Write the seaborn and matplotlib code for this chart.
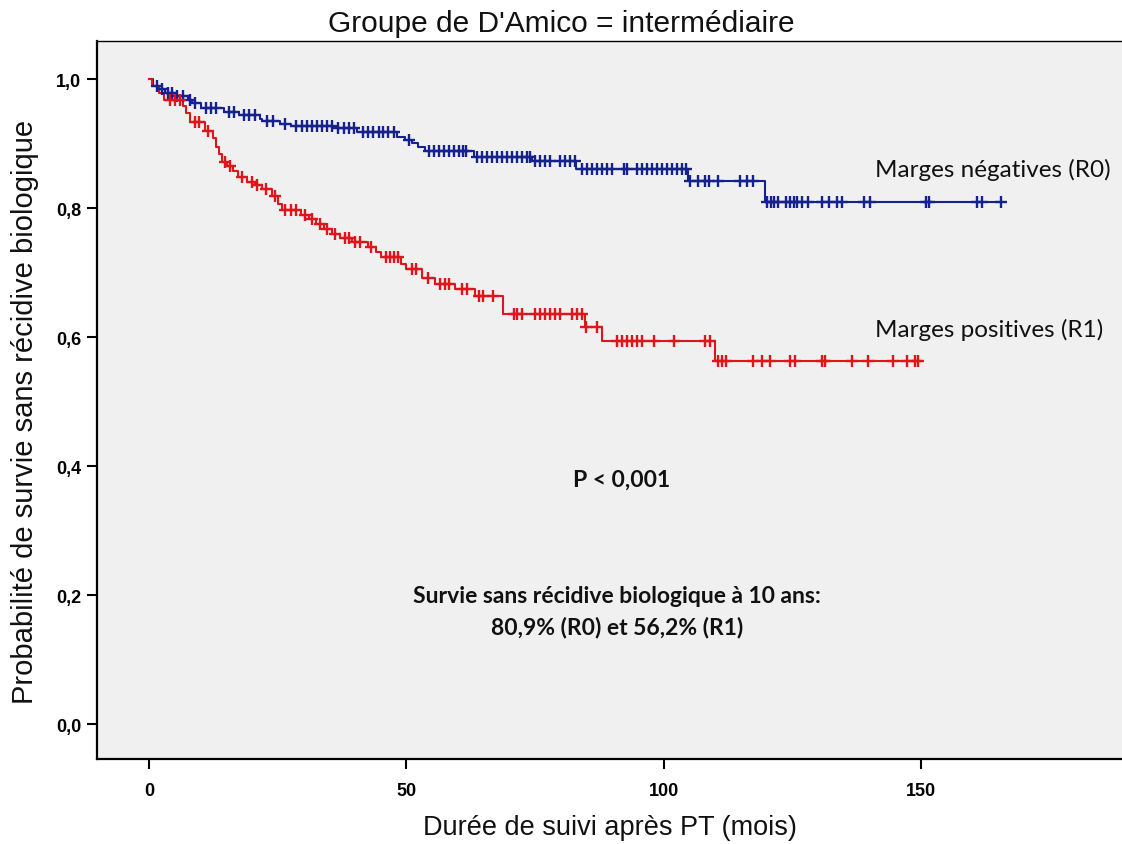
import numpy as np
import pandas as pd
import matplotlib
matplotlib.use("Agg")
import matplotlib.pyplot as plt
import seaborn as sns

# ---------------- data ----------------
groups = ["Marges négatives (R0)", "Marges positives (R1)"]

r0_step_t = [0, 0.8, 2.0, 3.1, 5.5, 7.5, 8.4, 10.0, 14.5, 17.5, 21.5, 22.0, 25.5, 27.5, 35.7,
             40.4, 48.2, 49.7, 51.1, 52.3, 53.6, 63.2, 74.4, 83.0, 104.7, 119.7]
r0_step_s = [1.0, 0.990, 0.984, 0.978, 0.973, 0.968, 0.963, 0.955, 0.949, 0.944, 0.938, 0.935,
             0.930, 0.927, 0.924, 0.918, 0.910, 0.906, 0.901, 0.895, 0.888, 0.879, 0.873,
             0.860, 0.842, 0.809]
r0_censor_t = [1.5, 2.5, 3.6, 4.5, 5.5, 6.5, 8.0, 9.0, 11.0, 12.0, 13.0, 15.5, 16.5, 18.5,
               19.5, 20.5, 23.0, 24.0, 26.5, 28.5, 29.7, 30.7, 31.7, 32.7, 33.6, 34.6, 35.5,
               36.8, 37.8, 38.8, 39.8, 41.6, 42.6, 43.6, 44.6, 45.5, 46.5, 47.5, 50.5, 54.4,
               55.4, 56.4, 57.3, 58.3, 59.2, 60.2, 61.0, 61.6, 63.7, 64.6, 65.6, 66.6, 67.6,
               68.5, 69.5, 70.5, 71.4, 72.4, 73.4, 74.0, 75.0, 76.0, 76.9, 77.9, 79.9, 80.8,
               81.8, 82.8, 84.1, 85.0, 86.0, 87.0, 88.0, 88.9, 89.9, 92.2, 92.8, 94.7, 95.7,
               96.7, 97.7, 98.6, 99.6, 100.6, 101.5, 102.5, 103.5, 104.4, 105.1, 106.7, 108.0,
               108.7, 110.6, 114.8, 116.1, 117.4, 120.0, 120.8, 121.4, 122.1, 123.8, 124.6,
               125.2, 125.8, 126.8, 128.1, 130.7, 132.0, 133.6, 134.6, 138.8, 140.1, 151.0,
               151.6, 160.8, 161.8, 165.4]

r1_step_t = [0, 0.6, 2.0, 3.0, 6.5, 7.2, 8.0, 10.8, 12.4, 13.0, 13.5, 14.2, 15.2, 16.3, 17.3,
             19.0, 20.5, 22.0, 23.9, 25.0, 25.8, 29.5, 31.0, 32.5, 34.0, 35.5, 37.0, 39.5,
             42.5, 44.0, 45.0, 49.0, 50.0, 53.0, 55.5, 59.5, 63.3, 68.8, 84.7, 88.0, 110.0]
r1_step_s = [1.0, 0.990, 0.978, 0.968, 0.958, 0.948, 0.933, 0.919, 0.908, 0.895, 0.884,
             0.872, 0.865, 0.857, 0.848, 0.840, 0.835, 0.829, 0.818, 0.806, 0.797, 0.790,
             0.783, 0.776, 0.768, 0.760, 0.753, 0.747, 0.740, 0.732, 0.724, 0.714, 0.705,
             0.691, 0.682, 0.674, 0.664, 0.636, 0.616, 0.594, 0.563]
r1_censor_t = [4.0, 5.0, 6.0, 9.0, 9.8, 11.5, 14.8, 15.7, 18.0, 20.0, 21.0, 22.7, 24.5, 26.5,
               27.5, 28.5, 30.2, 31.7, 33.2, 34.5, 36.2, 38.0, 38.8, 40.0, 41.0, 43.2, 46.0,
               46.8, 47.6, 48.4, 51.0, 51.8, 54.2, 56.5, 57.4, 58.2, 60.8, 61.8, 64.0, 64.9,
               66.8, 70.8, 71.5, 72.5, 75.0, 76.0, 76.9, 77.9, 78.9, 79.9, 82.2, 83.2, 84.1,
               84.8, 87.0, 90.9, 91.8, 92.8, 93.8, 94.7, 95.7, 98.0, 101.9, 108.0, 109.0,
               110.6, 111.3, 112.0, 117.4, 119.1, 120.7, 124.5, 125.5, 130.8, 131.3, 136.6,
               139.7, 144.6, 147.3, 148.8, 149.4]

x_ticks = [0, 50, 100, 150]
y_ticks = [0.0, 0.2, 0.4, 0.6, 0.8, 1.0]
y_tick_labels = ["0,0", "0,2", "0,4", "0,6", "0,8", "1,0"]

title = "Groupe de D'Amico = intermédiaire"
x_label = "Durée de suivi après PT (mois)"
y_label = "Probabilité de survie sans récidive biologique"
p_text = "P < 0,001"
summary_text = "Survie sans récidive biologique à 10 ans:\n80,9% (R0) et 56,2% (R1)"

# ---------------- build frames ----------------
def curve_frame(name, st, ss, ct):
    st = list(st); ss = list(ss)
    end_t = max(max(ct), st[-1])
    st.append(end_t); ss.append(ss[-1])
    return pd.DataFrame({"t": st, "s": ss, "groupe": name})

def censor_frame(name, st, ss, ct):
    idx = np.searchsorted(np.array(st), np.array(ct), side="right") - 1
    return pd.DataFrame({"t": ct, "s": np.array(ss)[idx], "groupe": name})

curves = pd.concat([curve_frame(groups[0], r0_step_t, r0_step_s, r0_censor_t),
                    curve_frame(groups[1], r1_step_t, r1_step_s, r1_censor_t)])
cens = pd.concat([censor_frame(groups[0], r0_step_t, r0_step_s, r0_censor_t),
                  censor_frame(groups[1], r1_step_t, r1_step_s, r1_censor_t)])

palette = {groups[0]: "#14218f", groups[1]: "#e2141b"}

# ---------------- plot ----------------
sns.set_style("ticks")
plt.rcParams["font.family"] = ["Liberation Sans", "DejaVu Sans"]
plt.rcParams["text.color"] = "#111111"
plt.rcParams["axes.labelcolor"] = "#111111"

fig = plt.figure(figsize=(11.22, 8.45), dpi=100)
ax = fig.add_axes([0.0865, 0.1006, 0.9135, 0.8497])
ax.set_facecolor("#f0f0f0")

for g in groups:
    sns.lineplot(data=curves[curves.groupe == g], x="t", y="s", color=palette[g],
                 drawstyle="steps-post", estimator=None, sort=False, lw=1.5, ax=ax,
                 legend=False)
    sns.scatterplot(data=cens[cens.groupe == g], x="t", y="s", color=palette[g],
                    marker="+", s=85, linewidth=1.7, ax=ax, legend=False, zorder=3)

ax.set_xlim(-10.1, 189)
ax.set_ylim(-0.054, 1.059)
ax.set_xticks(x_ticks)
ax.set_xticklabels([str(v) for v in x_ticks])
ax.set_yticks(y_ticks)
ax.set_yticklabels(y_tick_labels)
for lab in ax.get_xticklabels() + ax.get_yticklabels():
    lab.set_fontweight("bold")
ax.tick_params(direction="out", length=7.5, width=1.5, labelsize=13, pad=4, colors="black")
ax.tick_params(axis="x", pad=9)

for side in ["left", "bottom"]:
    ax.spines[side].set_linewidth(1.6)
    ax.spines[side].set_color("black")
ax.spines["top"].set_visible(True)
ax.spines["top"].set_linewidth(1.0)
ax.spines["top"].set_color("black")
ax.spines["right"].set_visible(False)

ax.set_xlabel(x_label, fontsize=19.5, va="center")
ax.xaxis.set_label_coords(0.5, -0.0947)
ax.set_ylabel(y_label, fontsize=21, va="center")
ax.yaxis.set_label_coords(-0.070, 0.485)

fig.text(0.5, 0.972, title, ha="center", va="center", fontsize=21.5)

ann_font = ["Lato", "DejaVu Sans"]
ax.text(0.759, 0.822, groups[0], transform=ax.transAxes, ha="left", va="center",
        fontsize=17.5, family=ann_font)
ax.text(0.759, 0.599, groups[1], transform=ax.transAxes, ha="left", va="center",
        fontsize=17.5, family=ann_font)
ax.text(0.512, 0.390, p_text, transform=ax.transAxes, ha="center", va="center",
        fontsize=16.5, fontweight="bold", family=ann_font)
ax.text(0.507, 0.206, summary_text, transform=ax.transAxes, ha="center", va="center",
        fontsize=16.5, fontweight="bold", family=ann_font, linespacing=1.5)

fig.savefig("out.png", dpi=100)
